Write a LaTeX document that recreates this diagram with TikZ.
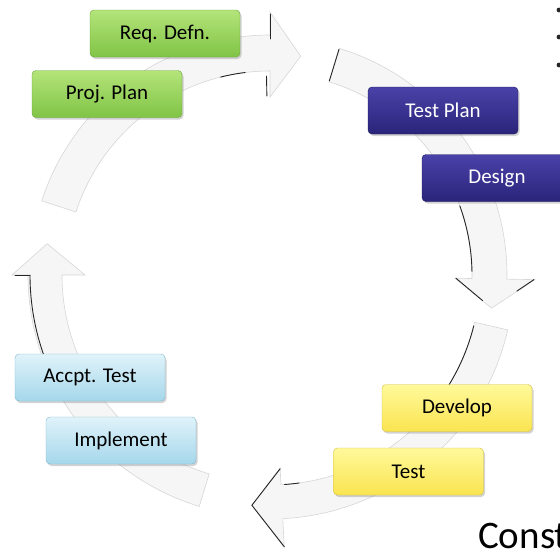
\documentclass[tikz,border=0pt]{standalone}
\usepackage{fontspec}
\setmainfont{Carlito}
\usetikzlibrary{shadows,calc}

\definecolor{grnT}{RGB}{180,228,122}
\definecolor{grnB}{RGB}{128,196,70}
\definecolor{grnD}{RGB}{105,165,55}
\definecolor{bluT}{RGB}{74,66,168}
\definecolor{bluB}{RGB}{42,36,122}
\definecolor{bluD}{RGB}{30,25,95}
\definecolor{cyaT}{RGB}{224,243,250}
\definecolor{cyaB}{RGB}{165,215,235}
\definecolor{cyaD}{RGB}{130,185,205}
\definecolor{yelT}{RGB}{255,249,155}
\definecolor{yelB}{RGB}{250,228,80}
\definecolor{yelD}{RGB}{215,190,60}

\tikzset{
  stage/.style={rounded corners=4pt, minimum width=150pt, minimum height=47pt,
    inner sep=0pt, font=\fontsize{21}{25}\selectfont,
    drop shadow={opacity=0.35, shadow xshift=1.5pt, shadow yshift=-2pt}},
  greenstage/.style={stage, top color=grnT, bottom color=grnB, draw=grnD, text=black},
  bluestage/.style={stage, top color=bluT, bottom color=bluB, draw=bluD, text=white},
  cyanstage/.style={stage, top color=cyaT, bottom color=cyaB, draw=cyaD, text=black},
  yellowstage/.style={stage, top color=yelT, bottom color=yelB, draw=yelD, text=black},
  ring/.style={fill=gray!7, draw=gray!32, line width=0.6pt},
  sketch/.style={draw=black!85, line width=0.9pt, line cap=round},
}

% curved block arrow around the current origin:
% #1 tail angle, #2 head base angle, #3 tip angle,
% #4 inner radius, #5 outer radius, #6 inner barb, #7 outer barb, #8 tip radius
\newcommand\cyclearrow[8]{%
  \path[ring] (#1:#5) arc[start angle=#1, end angle=#2, radius=#5]
    -- (#2:#7) -- (#3:#8) -- (#2:#6) -- (#2:#4)
    arc[start angle=#2, end angle=#1, radius=#4] -- cycle;}

\begin{document}
\begin{tikzpicture}[x=1pt,y=1pt]
\useasboundingbox (0,0) rectangle (560,-550);
\clip (0,0) rectangle (560,-550);

% the four arrows of the cycle
\begin{scope}[shift={(270,-275)}]
  \cyclearrow{162}{90}{82}{204}{240}{178}{263}{221}
  \cyclearrow{73}{-1}{-8.5}{202}{237}{185}{265}{224}
  \cyclearrow{-13}{-87}{-94.5}{210}{244}{193}{273}{231}
  \cyclearrow{-107}{-180}{-188}{208}{242}{185}{258}{225}

  % pen strokes over the arrow outlines
  \draw[sketch] (90:236) -- (90:261);
  \draw[sketch] (91:179) -- (91:199);
  \draw[sketch] (97:204) arc[start angle=97, end angle=104, radius=204];
  \draw[sketch] (73:203) -- (73:236);
  \draw[sketch] (20:202) arc[start angle=20, end angle=1, radius=202];
  \draw[sketch] (-1:186) -- ($(-1:186)!0.75!(-8.5:224)$);
  \draw[sketch] (-1:264) -- ($(-1:264)!0.4!(-8.5:224)$);
  \draw[sketch] (-14:210) arc[start angle=-14, end angle=-32, radius=210];
  \draw[sketch] (-87:194) -- (-94.5:231) -- (-87:272);
  \draw[sketch] (-82:210) arc[start angle=-82, end angle=-86, radius=210];
  \draw[sketch] (-160:240) arc[start angle=-160, end angle=-180, radius=240];
  \draw[sketch] (-180:240) -- (-180:255);
\end{scope}

% stage boxes
\node[greenstage]  (req)     at (165,-33.5)  {Req. Defn.};
\node[greenstage]  (proj)    at (107,-94)    {Proj. Plan};
\node[bluestage]   (tplan)   at (443,-110.5) {Test Plan};
\node[bluestage]   (design)  at (497,-178)   {Design};
\node[yellowstage] (develop) at (457,-408)   {Develop};
\node[yellowstage] (test)    at (408.5,-471.5) {Test};
\node[cyanstage]   (accpt)   at (90,-377.5)  {Accpt. Test};
\node[cyanstage]   (impl)    at (121,-440.5) {Implement};

% bullets and heading running off the edges
\foreach \yy [count=\i] in {-10,-37,-65}
  \fill[black!85] (559,\yy) circle[radius=2.4] coordinate (dot\i);
\node[anchor=base west, inner sep=0pt, font=\fontsize{39}{45}\selectfont]
  (const) at (478,-548) {Const};
\end{tikzpicture}
\end{document}
